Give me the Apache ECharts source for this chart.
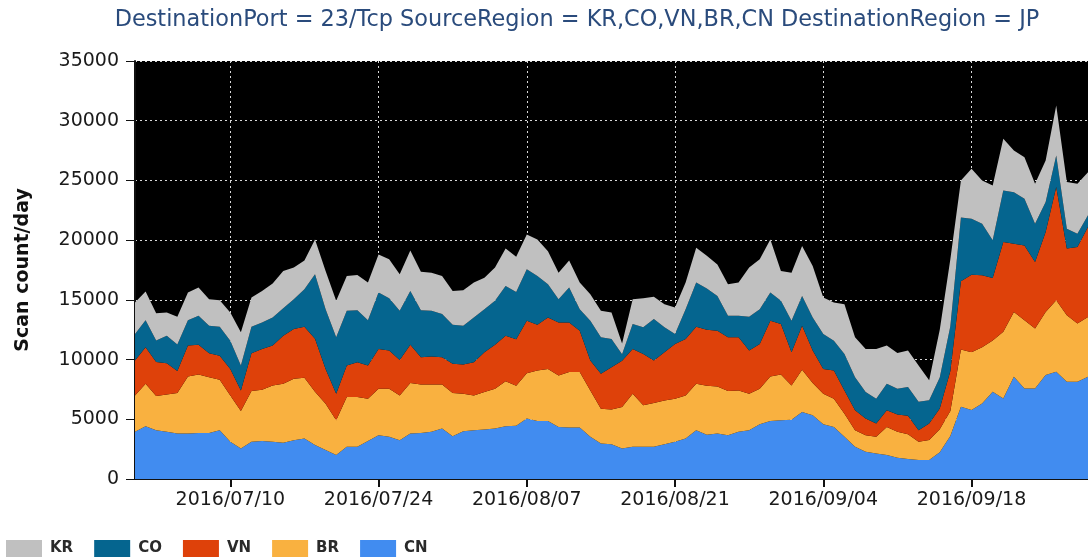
<!DOCTYPE html>
<html>
<head>
<meta charset="utf-8">
<script src="https://cdn.jsdelivr.net/npm/echarts@6/dist/echarts.min.js"></script>
<style>
    html, body { margin: 0; padding: 0; background: #fff; }
    #chartDiv { width: 1088px; height: 560px; }
</style>
</head>
<body>
<div id="chartDiv"></div>
<script>
// categories: daily from 2016/07/01 to 2016/09/29
const startDay = '2016-07-01'
const dayCount = 91
const days = []
for (let i = 0; i < dayCount; i++) {
    let d = new Date(Date.parse(startDay + 'T00:00:00Z') + i * 86400000)
    let mm = String(d.getUTCMonth() + 1).padStart(2, '0')
    let dd = String(d.getUTCDate()).padStart(2, '0')
    days.push(d.getUTCFullYear() + '/' + mm + '/' + dd)
}

const seriesNames = ['KR', 'CO', 'VN', 'BR', 'CN']

// scan counts per day
const dataCN = [
    3950, 4420, 4080, 3950, 3800, 3800, 3860, 3860, 4080, 3110,
    2560, 3110, 3190, 3110, 3030, 3250, 3390, 2850, 2420, 2000,
    2700, 2700, 3190, 3670, 3530, 3250, 3800, 3860, 3950, 4220,
    3580, 4000, 4080, 4140, 4220, 4420, 4450, 5060, 4860, 4860,
    4360, 4310, 4310, 3530, 2970, 2920, 2560, 2700, 2700, 2700,
    2920, 3110, 3390, 4080, 3700, 3800, 3670, 3950, 4080, 4580,
    4860, 4920, 4970, 5610, 5330, 4580, 4360, 3530, 2700, 2280,
    2140, 2000, 1770, 1670, 1590, 1590, 2230, 3600, 6040, 5770,
    6330, 7300, 6740, 8560, 7580, 7580, 8700, 8970, 8140, 8140,
    8560
]
const dataBR = [
    3050, 3550, 2870, 3130, 3400, 4780, 4890, 4670, 4230, 3890,
    3140, 4250, 4280, 4720, 4940, 5140, 5080, 4450, 3880, 2920,
    4160, 4160, 3530, 3890, 4030, 3750, 4230, 4060, 3970, 3700,
    3620, 3140, 2920, 3140, 3340, 3770, 3350, 3800, 4220, 4360,
    4310, 4640, 4640, 3890, 2920, 2890, 3470, 4440, 3470, 3660,
    3660, 3610, 3610, 3890, 4100, 3950, 3690, 3470, 3060, 2980,
    3720, 3830, 2860, 3530, 2700, 2560, 2360, 1940, 1380, 1390,
    1390, 2360, 2180, 2070, 1530, 1670, 1940, 2100, 4810, 4850,
    4710, 4290, 5580, 5430, 5710, 5020, 5290, 5990, 5570, 4880,
    5010
]
const dataVN = [
    2920, 3060, 2840, 2620, 1840, 2590, 2500, 2000, 2020, 2220,
    1720, 3170, 3420, 3340, 4030, 4170, 4280, 4450, 2920, 2220,
    2640, 2920, 2780, 3330, 3190, 2970, 3220, 2280, 2330, 2280,
    2440, 2440, 2780, 3330, 3690, 3810, 3900, 4390, 3840, 4310,
    4440, 4160, 3470, 2500, 2920, 3550, 3870, 3750, 4300, 3560,
    4030, 4590, 4720, 4780, 4700, 4670, 4500, 4440, 3610, 3750,
    4670, 4220, 2780, 3690, 2720, 2080, 2360, 1950, 1670, 1390,
    1110, 1390, 1450, 1560, 970, 1390, 1730, 3350, 5700, 6490,
    6020, 5250, 7520, 5710, 6270, 5570, 6690, 9490, 5580, 6410,
    7530
]
const dataCO = [
    2220, 2270, 1800, 2300, 2220, 2130, 2420, 2300, 2420, 2360,
    2080, 2220, 2220, 2360, 2300, 2500, 3140, 5390, 5000, 4720,
    4580, 4360, 3800, 4720, 4390, 4110, 4500, 3940, 3830, 3610,
    3280, 3250, 3750, 3610, 3670, 4170, 3950, 4310, 4080, 2770,
    1950, 2920, 1800, 3330, 3050, 2360, 550, 2080, 2230, 3470,
    2090, 830, 2500, 3700, 3450, 2910, 1810, 1810, 2830, 2910,
    2360, 1950, 2640, 2500, 2780, 2920, 2500, 3050, 2780, 2220,
    2080, 2220, 2160, 2410, 2370, 1950, 2600, 3750, 5350, 4680,
    4320, 3150, 4320, 4320, 3910, 3210, 2510, 2640, 1670, 1110,
    980
]
const dataKR = [
    2640, 2400, 2280, 1950, 2330, 2310, 2360, 2230, 2220, 2370,
    2780, 2450, 2640, 2830, 3120, 2640, 2410, 2920, 3200, 3060,
    2920, 2940, 3150, 3190, 3250, 3060, 3390, 3220, 3200, 3190,
    2830, 2980, 2920, 2640, 2780, 3140, 2950, 2910, 3060, 2780,
    2220, 2270, 2230, 2220, 2220, 2230, 900, 2090, 2440, 1860,
    1940, 2220, 2230, 2910, 2750, 2640, 2640, 2780, 4120, 4170,
    4450, 2500, 4030, 4170, 4300, 3060, 3200, 4170, 3330, 3610,
    4170, 3200, 2990, 3050, 3050, 1660, 4000, 5600, 3100, 4180,
    3610, 4590, 4330, 3490, 3480, 3340, 3480, 4180, 3900, 4180,
    3610
]

const yTicks = [0, 5000, 10000, 15000, 20000, 25000, 30000, 35000]

// 固定样式
const colors = {
    KR: '#c0c0c0',
    CO: '#05658f',
    VN: '#de410a',
    BR: '#f9b140',
    CN: '#418cf0'
}
const fontMain = 'DejaVu Sans'
// a label every 14 days, starting 2016/07/10
const showTick = (idx) => idx >= 9 && (idx - 9) % 14 === 0

function makeSeries(name, data) {
    return {
        name: name,
        type: 'line',
        stack: 'total',
        data: data,
        symbol: 'none',
        lineStyle: { width: 0 },
        itemStyle: { color: colors[name] },
        areaStyle: { color: colors[name], opacity: 1 },
        emphasis: { disabled: true }
    }
}

let options = {
    animation: false,
    backgroundColor: '#ffffff',
    title: {
        text: 'DestinationPort = 23/Tcp SourceRegion = KR,CO,VN,BR,CN DestinationRegion = JP',
        left: 572,
        textAlign: 'center',
        top: 4,
        textStyle: {
            fontFamily: fontMain,
            fontSize: 22.4,
            fontWeight: 'normal',
            color: '#2a4b7c'
        }
    },
    legend: {
        data: seriesNames,
        left: 6,
        top: 540,
        padding: 0,
        icon: 'rect',
        itemWidth: 36,
        itemHeight: 17,
        itemGap: 21,
        textStyle: {
            fontFamily: fontMain,
            fontSize: 15,
            fontWeight: 'bold',
            color: '#2a2a2a',
            padding: [3, 0, 0, 3]
        }
    },
    grid: {
        left: 135,
        right: 0,
        top: 61,
        bottom: 81,
        show: true,
        backgroundColor: '#000000',
        borderWidth: 0,
        containLabel: false,
        outerBoundsMode: 'none'
    },
    xAxis: {
        type: 'category',
        data: days,
        boundaryGap: false,
        axisLine: { lineStyle: { color: '#111', width: 2 } },
        axisTick: {
            interval: showTick,
            length: 8,
            lineStyle: { color: '#111', width: 2 }
        },
        axisLabel: {
            interval: showTick,
            margin: 12,
            fontFamily: fontMain,
            fontSize: 19,
            color: '#1a1a1a'
        },
        splitLine: {
            show: true,
            interval: showTick,
            lineStyle: { color: '#d8d8d8', type: [2, 3], width: 1 }
        }
    },
    yAxis: {
        type: 'value',
        min: yTicks[0],
        max: yTicks[yTicks.length - 1],
        interval: yTicks[1] - yTicks[0],
        name: 'Scan count/day',
        nameLocation: 'middle',
        nameGap: 102,
        nameTextStyle: {
            fontFamily: fontMain,
            fontSize: 19,
            fontWeight: 'bold',
            color: '#111'
        },
        axisLine: { show: true, lineStyle: { color: '#111', width: 2 } },
        axisTick: { show: true, length: 9, lineStyle: { color: '#111', width: 1 } },
        axisLabel: {
            margin: 16,
            fontFamily: fontMain,
            fontSize: 19,
            color: '#1a1a1a',
            formatter: (v) => String(v)
        },
        splitLine: {
            show: true,
            lineStyle: { color: '#d8d8d8', type: [2, 3], width: 1 }
        }
    },
    series: [
        makeSeries('CN', dataCN),
        makeSeries('BR', dataBR),
        makeSeries('VN', dataVN),
        makeSeries('CO', dataCO),
        makeSeries('KR', dataKR)
    ]
}

let chartContainer = document.getElementById('chartDiv')
let myChart = echarts.init(chartContainer)
options && myChart.setOption(options)
</script>
</body>
</html>
